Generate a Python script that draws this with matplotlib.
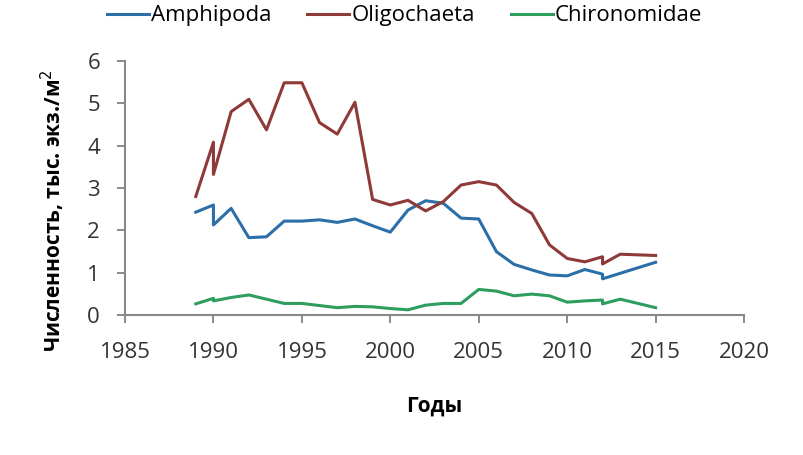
import matplotlib
matplotlib.use("Agg")
import matplotlib.pyplot as plt

plt.rcParams['font.family'] = ['Open Sans', 'DejaVu Sans']

# Amphipoda
amph_years = [1989, 1990, 1990, 1991, 1992, 1993, 1994, 1995, 1996, 1997,
              1998, 1999, 2000, 2001, 2002, 2003, 2004, 2005, 2006, 2007,
              2008, 2009, 2010, 2011, 2012, 2012, 2015]
amph = [2.43, 2.60, 2.13, 2.52, 1.83, 1.85, 2.22, 2.22, 2.25, 2.19,
        2.27, 2.11, 1.96, 2.48, 2.70, 2.64, 2.29, 2.27, 1.50, 1.20,
        1.07, 0.95, 0.93, 1.08, 0.97, 0.86, 1.25]

# Oligochaeta
olig_years = [1989, 1990, 1990, 1991, 1992, 1993, 1994, 1995, 1996, 1997,
              1998, 1999, 2000, 2001, 2002, 2003, 2004, 2005, 2006, 2007,
              2008, 2009, 2010, 2011, 2012, 2012, 2013, 2015]
olig = [2.80, 4.08, 3.32, 4.80, 5.09, 4.37, 5.48, 5.48, 4.54, 4.27,
        5.02, 2.73, 2.60, 2.71, 2.46, 2.68, 3.07, 3.15, 3.07, 2.66,
        2.40, 1.66, 1.34, 1.26, 1.38, 1.21, 1.44, 1.41]

# Chironomidae
chir_years = [1989, 1990, 1990, 1991, 1992, 1993, 1994, 1995, 1996, 1997,
              1998, 1999, 2000, 2001, 2002, 2003, 2004, 2005, 2006, 2007,
              2008, 2009, 2010, 2011, 2012, 2012, 2013, 2015]
chir = [0.27, 0.40, 0.34, 0.42, 0.48, 0.38, 0.28, 0.28, 0.23, 0.18,
        0.21, 0.20, 0.16, 0.13, 0.24, 0.28, 0.28, 0.61, 0.57, 0.46,
        0.50, 0.46, 0.31, 0.34, 0.36, 0.27, 0.38, 0.18]

x_ticks = [1985, 1990, 1995, 2000, 2005, 2010, 2015, 2020]
y_ticks = [0, 1, 2, 3, 4, 5, 6]

fig = plt.figure(figsize=(8.04, 4.55), dpi=100)
ax = fig.add_axes([0.1555, 0.307, 0.7699, 0.5596])

ax.plot(amph_years, amph, color="#2b6ea8", lw=2.2, label="Amphipoda")
ax.plot(olig_years, olig, color="#8e3a38", lw=2.2, label="Oligochaeta")
ax.plot(chir_years, chir, color="#2e9e5e", lw=2.2, label="Chironomidae")

ax.set_xlim(1985, 2020)
ax.set_ylim(0, 6)
ax.set_xticks(x_ticks)
ax.set_yticks(y_ticks)
ax.tick_params(labelsize=16, colors="#333333", length=6, width=1.2,
               direction="out")
ax.tick_params(axis="both", color="#777777")
ax.tick_params(axis="x", pad=13)
ax.tick_params(axis="y", pad=12)
for side in ["top", "right"]:
    ax.spines[side].set_visible(False)
for side in ["left", "bottom"]:
    ax.spines[side].set_color("#888888")
    ax.spines[side].set_linewidth(1.5)

ax.set_xlabel("Годы", fontsize=15, fontweight="bold", labelpad=24)
ax.set_ylabel("Численность, тыс. экз./м$^2$", fontsize=15,
              fontweight="bold")
ax.yaxis.set_label_coords(-0.094, 0.41)

fig.legend(loc="center", bbox_to_anchor=(0.503, 0.965), ncol=3,
           frameon=False, fontsize=16, handlelength=1.9,
           handletextpad=0.1, columnspacing=1.6)

fig.savefig("out.png", dpi=100, facecolor="white")
